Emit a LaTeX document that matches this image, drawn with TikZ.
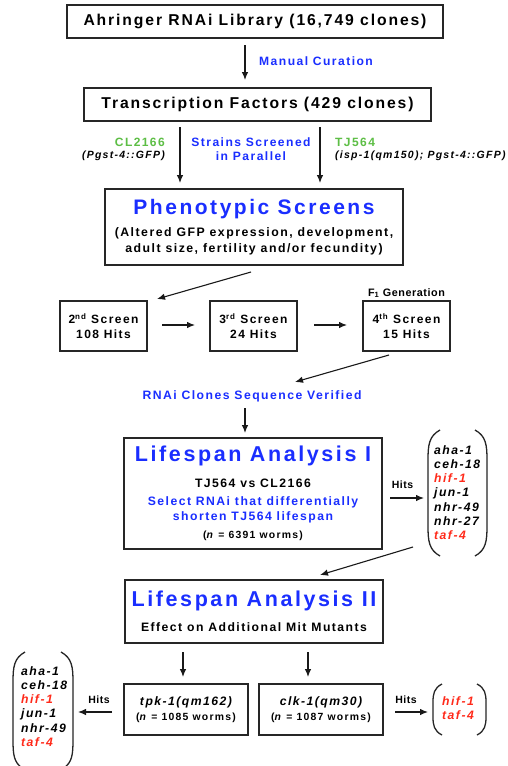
\documentclass[tikz,border=0pt]{standalone}
\usepackage{fontspec}
\setmainfont{Liberation Sans}
\newfontfamily\ls{Liberation Sans}[LetterSpace=12]
\newfontfamily\lsn{Liberation Sans}[LetterSpace=5]
\usetikzlibrary{arrows.meta}
\definecolor{tblue}{HTML}{1A2EFF}
\definecolor{tgreen}{HTML}{5DBE45}
\definecolor{tred}{HTML}{FF2A1A}
\newcommand{\fs}[1]{\fontsize{#1}{#1}\selectfont}
\begin{document}
\begin{tikzpicture}[x=1pt,y=-1pt,
  box/.style={draw=black!85, line width=1.3pt, inner sep=0pt, align=center, font=\ls\bfseries},
  arr/.style={-{Latex[length=8pt,width=6.5pt]}, line width=1.1pt, black!90},
  paren/.style={line width=1.3pt, black!85},
  txt/.style={inner sep=0pt, font=\ls\bfseries},
  lst/.style={inner sep=0pt, align=left, font=\ls\bfseries\itshape\fs{12.2}}
]
\useasboundingbox (0,0) rectangle (507,766);
\fill[white] (0,0) rectangle (507,766);

% boxes
\node[box, minimum width=376pt, minimum height=33pt] (b1) at (255,21.5)
  {\fs{15.7}Ahringer RNAi Library (16,749 clones)};
\node[box, minimum width=347pt, minimum height=33pt] (b2) at (257.5,104.5)
  {\fs{15.7}Transcription Factors (429 clones)};
\node[box, minimum width=298pt, minimum height=76pt] (b3) at (254,227)
  {\fs{21}\color{tblue}Phenotypic Screens\\[8pt]
   \fs{12.3}(Altered GFP expression, development,\\[3.5pt]
   \fs{12.3}adult size, fertility and/or fecundity)};
\node[box, minimum width=87pt, minimum height=50pt] (s2) at (103.5,326)
  {\fs{12}2\textsuperscript{nd} Screen\\[3pt]\fs{12}108 Hits};
\node[box, minimum width=87pt, minimum height=50pt] (s3) at (253.5,326)
  {\fs{12}3\textsuperscript{rd} Screen\\[3pt]\fs{12}24 Hits};
\node[box, minimum width=87pt, minimum height=50pt] (s4) at (406.5,326)
  {\fs{12}4\textsuperscript{th} Screen\\[3pt]\fs{12}15 Hits};
\node[box, minimum width=258pt, minimum height=111pt] (b4) at (253,493.5)
  {\fs{21.5}\color{tblue}Lifespan Analysis I\\[12pt]
   \fs{12.2}TJ564 vs CL2166\\[6pt]
   \fs{12.2}\color{tblue}Select RNAi that differentially\\[3.5pt]
   \fs{12.2}\color{tblue}shorten TJ564 lifespan\\[6pt]
   \fs{10.4}(\textit{n} = 6391 worms)};
\node[box, minimum width=258pt, minimum height=63pt] (b5) at (254,611.5)
  {\fs{21.5}\color{tblue}Lifespan Analysis II\\[11pt]
   \fs{12.2}Effect on Additional Mit Mutants};
\node[box, minimum width=124pt, minimum height=51pt] (m1) at (186,709.5)
  {\fs{12.2}\itshape tpk-1(qm162)\\[3pt]\fs{10.4}(\textit{n} = 1085 worms)};
\node[box, minimum width=124pt, minimum height=51pt] (m2) at (321,709.5)
  {\fs{12.2}\itshape clk-1(qm30)\\[3pt]\fs{10.4}(\textit{n} = 1087 worms)};

% labels
\node[txt, anchor=west, text=tblue, font=\ls\bfseries\fs{12.1}] (lmc) at (259,61) {Manual Curation};
\node[txt, anchor=east, text=tgreen, font=\ls\bfseries\fs{12}] (lcl) at (165,142) {CL2166};
\node[txt, anchor=east, font=\ls\bfseries\itshape\fs{10.5}] (lclg) at (165,156) {(Pgst-4::GFP)};
\node[txt, align=center, text=tblue, font=\ls\bfseries\fs{12.1}] (lss) at (251,149.5) {Strains Screened\\[2pt]in Parallel};
\node[txt, anchor=west, text=tgreen, font=\ls\bfseries\fs{12}] (ltj) at (335,142) {TJ564};
\node[txt, anchor=west, font=\ls\bfseries\itshape\fs{10.5}] (ltjg) at (335,156) {(isp-1(qm150); Pgst-4::GFP)};
\node[txt, font=\lsn\bfseries\fs{10.8}] (lf1) at (406.5,293) {F\textsubscript{1} Generation};
\node[txt, font=\lsn\bfseries\fs{10.5}] (lh1) at (402.5,485) {Hits};
\node[txt, text=tblue, font=\ls\bfseries\fs{12.2}] (lrv) at (252,396) {RNAi Clones Sequence Verified};
\node[txt, font=\lsn\bfseries\fs{10.5}] (lh2) at (99,700) {Hits};
\node[txt, font=\lsn\bfseries\fs{10.5}] (lh3) at (406,700) {Hits};

% lists
\node[lst, anchor=west] (g1) at (434,492.5)
  {aha-1\\[2pt]ceh-18\\[2pt]\textcolor{tred}{hif-1}\\[2pt]jun-1\\[2pt]nhr-49\\[2pt]nhr-27\\[2pt]\textcolor{tred}{taf-4}};
\node[lst, anchor=west] (g2) at (21,706.5)
  {aha-1\\[2pt]ceh-18\\[2pt]\textcolor{tred}{hif-1}\\[2pt]jun-1\\[2pt]nhr-49\\[2pt]\textcolor{tred}{taf-4}};
\node[lst, anchor=west, text=tred] (g3) at (442,708.5)
  {hif-1\\[2pt]taf-4};

% parentheses
\draw[paren] (440,430) .. controls (429,436) and (428,445) .. (428,460) -- (428,526) .. controls (428,541) and (429,550) .. (440,556);
\draw[paren] (475,430) .. controls (486,436) and (487,445) .. (487,460) -- (487,526) .. controls (487,541) and (486,550) .. (475,556);
\draw[paren] (25,652) .. controls (14,658) and (13,667) .. (13,682) -- (13,740) .. controls (13,755) and (14,762) .. (22,768);
\draw[paren] (61,652) .. controls (72,658) and (73,667) .. (73,682) -- (73,740) .. controls (73,755) and (72,762) .. (64,768);
\draw[paren] (442,684) .. controls (434,688) and (433,694) .. (433,702) -- (433,717) .. controls (433,725) and (434,731) .. (442,735);
\draw[paren] (477,684) .. controls (485,688) and (486,694) .. (486,702) -- (486,717) .. controls (486,725) and (485,731) .. (477,735);

% connector endpoints
\coordinate (c1a) at (245,45);  \coordinate (c1b) at (245,80);
\coordinate (c2a) at (180,127); \coordinate (c2b) at (180,183);
\coordinate (c3a) at (320,127); \coordinate (c3b) at (320,183);
\coordinate (c4a) at (251,272); \coordinate (c4b) at (157,299);
\coordinate (c5a) at (162,325); \coordinate (c5b) at (195,325);
\coordinate (c6a) at (314,325); \coordinate (c6b) at (347,325);
\coordinate (c7a) at (389,355); \coordinate (c7b) at (295,382);
\coordinate (c8a) at (245,408); \coordinate (c8b) at (245,433);
\coordinate (c9a) at (390,498); \coordinate (c9b) at (424,498);
\coordinate (c10a) at (413,547); \coordinate (c10b) at (320,575);
\coordinate (c11a) at (183,652); \coordinate (c11b) at (183,677);
\coordinate (c12a) at (308,652); \coordinate (c12b) at (308,677);
\coordinate (c13a) at (112,712); \coordinate (c13b) at (78,712);
\coordinate (c14a) at (395,712); \coordinate (c14b) at (428,712);

\foreach \i in {1,...,14} \draw[arr] (c\i a) -- (c\i b);
\end{tikzpicture}
\end{document}
